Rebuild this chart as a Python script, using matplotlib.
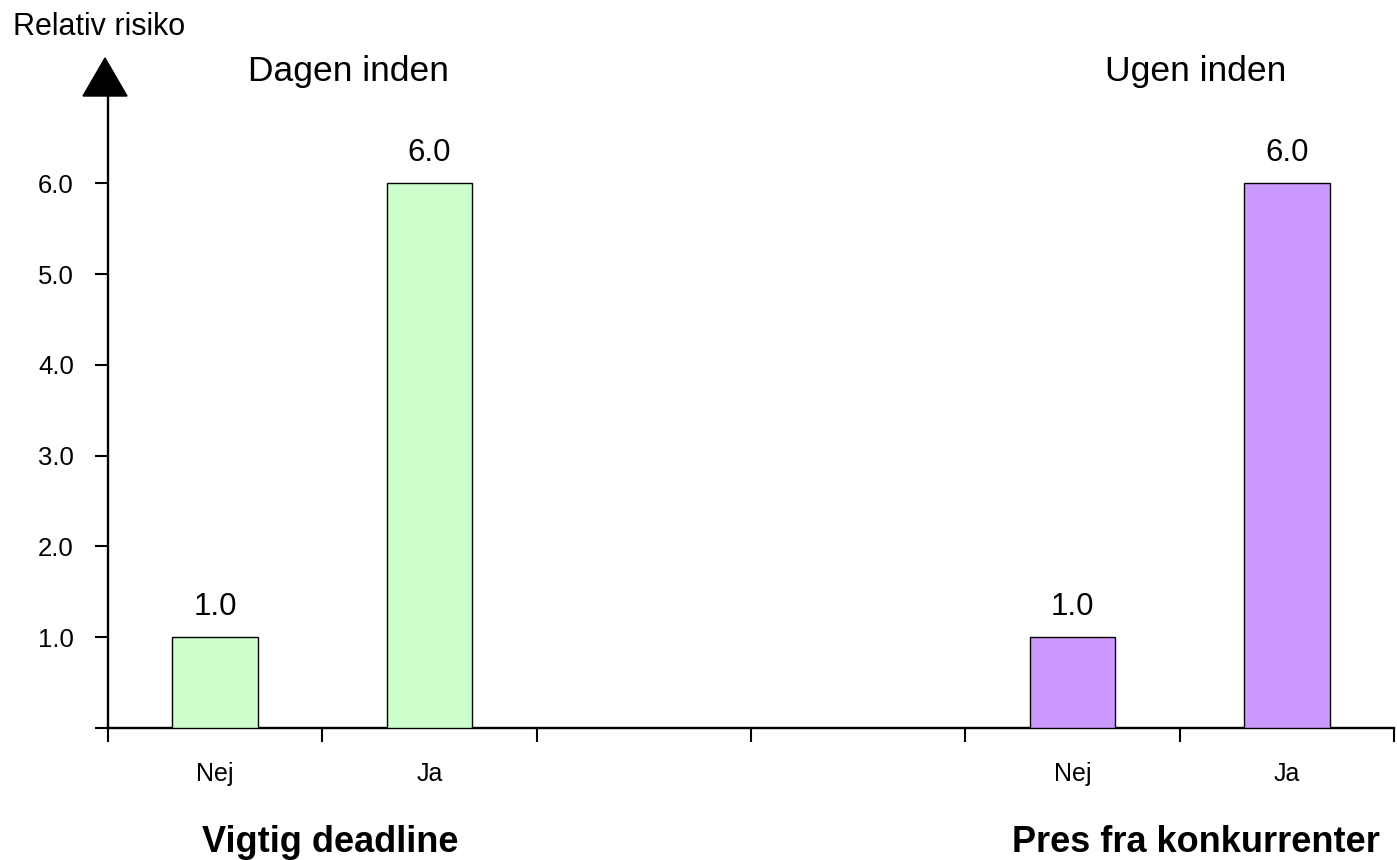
import matplotlib
matplotlib.use("Agg")
import matplotlib.pyplot as plt
from matplotlib.patches import Polygon
from matplotlib.transforms import blended_transform_factory

plt.rcParams["font.family"] = ["Liberation Sans", "DejaVu Sans"]

# Data
slot_labels = ["Nej", "Ja", "", "", "Nej", "Ja"]
values = [1.0, 6.0, None, None, 1.0, 6.0]
bar_colors = ["#CCFFCC", "#CCFFCC", None, None, "#CC99FF", "#CC99FF"]
group_titles = ["Dagen inden", "Ugen inden"]
group_names = ["Vigtig deadline", "Pres fra konkurrenter"]
y_ticks = [0, 1, 2, 3, 4, 5, 6]
y_tick_labels = ["", "1.0", "2.0", "3.0", "4.0", "5.0", "6.0"]
y_title = "Relativ risiko"

W, H = 1397, 860
fig = plt.figure(figsize=(W / 100, H / 100), dpi=100)
left, right, bottom, top = 108, 1394, 728, 96
ax = fig.add_axes([left / W, 1 - bottom / H, (right - left) / W, (bottom - top) / H])

px_per_unit = 90.8
ax.set_xlim(0, len(slot_labels))
ax.set_ylim(0, (bottom - top) / px_per_unit)

for i, (v, c) in enumerate(zip(values, bar_colors)):
    if v is None:
        continue
    ax.bar(i + 0.5, v, width=0.4, color=c, edgecolor="black", linewidth=1.0, zorder=3)
    ax.annotate(f"{v:.1f}", (i + 0.5, v), xytext=(0, 16), textcoords="offset points",
                ha="center", va="baseline", fontsize=22.5)

for s in ["top", "right"]:
    ax.spines[s].set_visible(False)
for s in ["left", "bottom"]:
    ax.spines[s].set_linewidth(1.7)

ax.set_xticks(range(len(slot_labels) + 1))
ax.set_xticklabels([])
ax.tick_params(axis="x", direction="out", length=10, width=1.5)
ax.set_yticks(y_ticks)
ax.set_yticklabels(y_tick_labels, fontsize=18.5)
ax.tick_params(axis="y", direction="out", length=9.5, width=1.5, pad=15)

# Category labels under each slot
tr = blended_transform_factory(ax.transData, ax.transAxes)
for i, lab in enumerate(slot_labels):
    if lab:
        ax.text(i + 0.5, -53 / (bottom - top), lab, transform=tr,
                ha="center", va="baseline", fontsize=18)

# Arrow head on top of the y axis
ah_w, ah_h = 22 / (right - left), 38 / (bottom - top)
x0 = -3 / (right - left)
ax.add_patch(Polygon([[x0 - ah_w, 1.0], [x0 + ah_w, 1.0], [x0, 1.0 + ah_h]],
                     closed=True, transform=ax.transAxes, facecolor="black",
                     edgecolor="black", clip_on=False))

fig.text(13 / W, 1 - 35 / H, y_title, ha="left", va="baseline", fontsize=22)
fig.text(248 / W, 1 - 81 / H, group_titles[0], ha="left", va="baseline", fontsize=25.5)
fig.text(1105 / W, 1 - 81 / H, group_titles[1], ha="left", va="baseline", fontsize=25.5)
fig.text(202 / W, 1 - 852 / H, group_names[0], ha="left", va="baseline",
         fontsize=26, fontweight="bold")
fig.text(1012 / W, 1 - 852 / H, group_names[1], ha="left", va="baseline",
         fontsize=26, fontweight="bold")

fig.savefig("out.png", dpi=100)
